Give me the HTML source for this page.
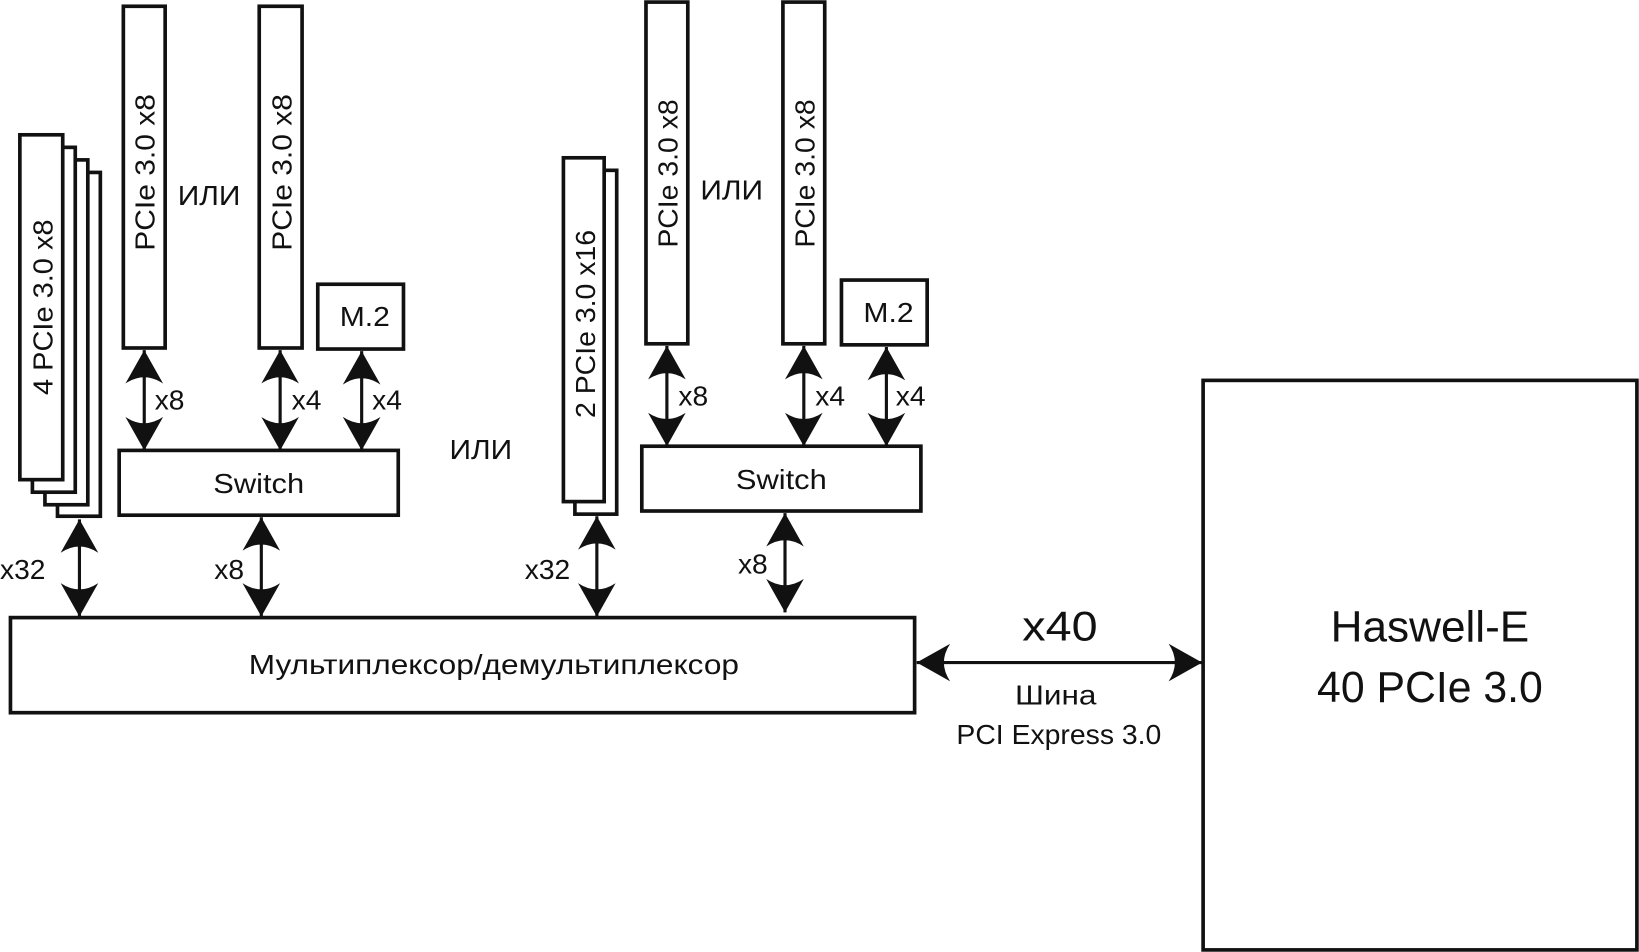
<!DOCTYPE html>
<html><head><meta charset="utf-8"><style>
html,body{margin:0;padding:0;background:#fff}
svg{display:block}
text{font-family:"Liberation Sans","DejaVu Sans",sans-serif;fill:#111}
</style></head><body>
<svg width="1639" height="952" viewBox="0 0 1568 911" preserveAspectRatio="none" xmlns="http://www.w3.org/2000/svg">
<defs>
<marker id="a" viewBox="0 0 32 36" refX="32" refY="18" markerWidth="32" markerHeight="36" markerUnits="userSpaceOnUse" orient="auto-start-reverse">
<path d="M32,18 L0,0 Q12,18 0,36 Z" fill="#111"/>
</marker>
</defs>
<g fill="#fff" stroke="#111" stroke-width="3.5">
<rect x="55" y="165" width="41" height="329"/>
<rect x="43" y="153" width="41" height="330"/>
<rect x="31" y="141" width="41" height="330"/>
<rect x="19" y="129" width="41" height="330"/>
<rect x="118" y="6" width="40" height="327"/>
<rect x="248" y="6" width="41" height="327"/>
<rect x="304" y="272" width="82" height="62"/>
<rect x="114" y="431" width="267" height="62"/>
<rect x="550" y="163" width="40" height="329"/>
<rect x="539" y="151" width="39" height="329"/>
<rect x="618" y="2" width="40" height="327"/>
<rect x="749" y="2" width="40" height="327"/>
<rect x="805" y="268" width="82" height="62"/>
<rect x="614" y="427" width="267" height="62"/>
<rect x="10" y="591" width="865" height="91"/>
<rect x="1151" y="364" width="415" height="545"/>
</g>
<g stroke="#111" stroke-width="3" marker-start="url(#a)" marker-end="url(#a)">
<line x1="138" y1="335" x2="138" y2="431"/>
<line x1="268" y1="335" x2="268" y2="431"/>
<line x1="346" y1="336" x2="346" y2="431"/>
<line x1="76" y1="497" x2="76" y2="590"/>
<line x1="250" y1="495" x2="250" y2="590"/>
<line x1="638" y1="331" x2="638" y2="427"/>
<line x1="769" y1="331" x2="769" y2="427"/>
<line x1="848" y1="332" x2="848" y2="427"/>
<line x1="571" y1="494" x2="571" y2="590"/>
<line x1="751" y1="491" x2="751" y2="586"/>
<line x1="877" y1="634" x2="1150" y2="634"/>
</g>
<g font-size="27">
<text x="148" y="392">x8</text>
<text x="279" y="392">x4</text>
<text x="356" y="392">x4</text>
<text x="649" y="388">x8</text>
<text x="780" y="388">x4</text>
<text x="857" y="388">x4</text>
<text x="0" y="554">x32</text>
<text x="205" y="554">x8</text>
<text x="502" y="554">x32</text>
<text x="706" y="549">x8</text>
<text x="170" y="196" textLength="60" lengthAdjust="spacingAndGlyphs">ИЛИ</text>
<text x="430" y="439" textLength="60" lengthAdjust="spacingAndGlyphs">ИЛИ</text>
<text x="670" y="191" textLength="60" lengthAdjust="spacingAndGlyphs">ИЛИ</text>
<text x="325" y="312" textLength="48" lengthAdjust="spacingAndGlyphs">M.2</text>
<text x="826" y="308" textLength="48" lengthAdjust="spacingAndGlyphs">M.2</text>
<text x="204" y="472" textLength="87" lengthAdjust="spacingAndGlyphs">Switch</text>
<text x="704" y="468" textLength="87" lengthAdjust="spacingAndGlyphs">Switch</text>
<text x="238" y="645" textLength="469" lengthAdjust="spacingAndGlyphs">Мультиплексор/демультиплексор</text>
<text x="971" y="674" textLength="78" lengthAdjust="spacingAndGlyphs">Шина</text>
<text x="915" y="712" textLength="196" lengthAdjust="spacingAndGlyphs">PCI Express 3.0</text>
<text transform="translate(148,240) rotate(-90)" textLength="150" lengthAdjust="spacingAndGlyphs">PCIe 3.0 x8</text>
<text transform="translate(279,240) rotate(-90)" textLength="150" lengthAdjust="spacingAndGlyphs">PCIe 3.0 x8</text>
<text transform="translate(648,237) rotate(-90)" textLength="142" lengthAdjust="spacingAndGlyphs">PCIe 3.0 x8</text>
<text transform="translate(779,237) rotate(-90)" textLength="142" lengthAdjust="spacingAndGlyphs">PCIe 3.0 x8</text>
<text transform="translate(50,378) rotate(-90)" textLength="168" lengthAdjust="spacingAndGlyphs">4 PCIe 3.0 x8</text>
<text transform="translate(569,400) rotate(-90)" textLength="180" lengthAdjust="spacingAndGlyphs">2 PCIe 3.0 x16</text>
</g>
<text x="978" y="613" font-size="40" textLength="72" lengthAdjust="spacingAndGlyphs">x40</text>
<text x="1273" y="614" font-size="42" textLength="190" lengthAdjust="spacingAndGlyphs">Haswell-E</text>
<text x="1260" y="672" font-size="42" textLength="216" lengthAdjust="spacingAndGlyphs">40 PCIe 3.0</text>
</svg>
</body></html>
